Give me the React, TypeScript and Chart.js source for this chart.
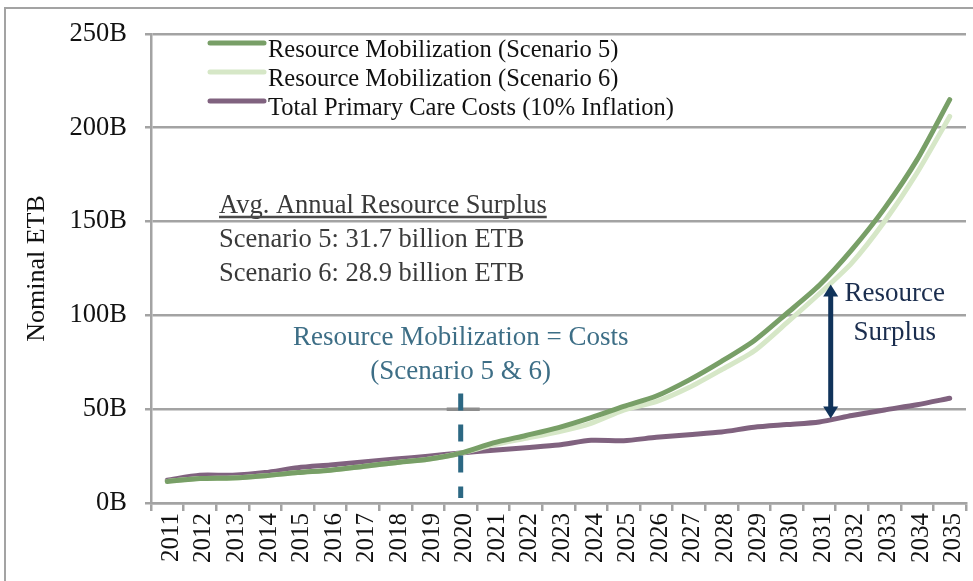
import React, { useEffect, useRef } from "react";
import { Chart, registerables } from "chart.js";

Chart.register(...registerables);

const years = [
  "2011", "2012", "2013", "2014", "2015", "2016", "2017", "2018", "2019", "2020",
  "2021", "2022", "2023", "2024", "2025", "2026", "2027", "2028", "2029", "2030",
  "2031", "2032", "2033", "2034", "2035",
];

// billions of ETB
const scenario5 = [
  11.5, 13, 13.3, 14.5, 16.2, 17.5, 19.5, 21.5, 23.3, 26.5,
  32, 36, 40.2, 45.5, 51.5, 57, 65.5, 75.5, 86.5, 101,
  116, 135, 157, 183, 215,
];
const scenario6 = [
  11.5, 13, 13.3, 14.5, 16.2, 17.5, 19.5, 21.5, 23.3, 26.5,
  31, 34.5, 38, 42.5, 49.5, 54, 61.5, 71, 81, 96,
  111.5, 128, 150, 176, 206,
];
const costs = [
  12.2, 14.8, 14.8, 16.2, 18.8, 20.3, 21.9, 23.4, 24.9, 26.7,
  28.1, 29.5, 30.9, 33.4, 33.2, 35, 36.4, 37.8, 40.4, 41.8,
  43.2, 46.6, 49.6, 52.4, 55.8,
];

const seriesLabels = [
  "Resource Mobilization (Scenario 5)",
  "Resource Mobilization (Scenario 6)",
  "Total Primary Care Costs (10% Inflation)",
];
const seriesColors = ["#789f67", "#d6e7c7", "#80627f"];

const yMin = 0;
const yMax = 250;
const yStep = 50;
const yTickSuffix = "B";
const yTitle = "Nominal ETB";

const noteLines = [
  "Avg. Annual Resource Surplus",
  "Scenario 5: 31.7 billion ETB",
  "Scenario 6: 28.9 billion ETB",
];
const breakEvenLines = ["Resource Mobilization = Costs", "(Scenario 5 & 6)"];
const breakEvenYear = "2020";
const surplusLines = ["Resource", "Surplus"];
const surplusYear = "2031";
const surplusTop = 116.5;
const surplusBottom = 45;

const FONT = "'Liberation Serif', 'Times New Roman', serif";
const GRID = "#a3a3a3";

const annotationPlugin = {
  id: "annotations",
  afterDatasetsDraw(chart: any) {
    const { ctx, scales } = chart;
    const xs = scales.x;
    const ys = scales.y;
    ctx.save();

    // break-even dashed marker
    const bx = xs.getPixelForValue(years.indexOf(breakEvenYear));
    const dashTop = ys.getPixelForValue(58.3);
    const dashBottom = ys.getPixelForValue(0) - 5;
    ctx.strokeStyle = "#8d8d8d";
    ctx.lineWidth = 3.5;
    ctx.beginPath();
    ctx.moveTo(bx - 14, ys.getPixelForValue(50));
    ctx.lineTo(bx + 19, ys.getPixelForValue(50));
    ctx.stroke();

    ctx.strokeStyle = "#2c6883";
    ctx.lineWidth = 5;
    ctx.setLineDash([17, 14]);
    ctx.beginPath();
    ctx.moveTo(bx, dashTop);
    ctx.lineTo(bx, dashBottom);
    ctx.stroke();
    ctx.setLineDash([]);

    ctx.fillStyle = "#3d6e86";
    ctx.font = `27px ${FONT}`;
    ctx.textAlign = "center";
    ctx.textBaseline = "alphabetic";
    ctx.fillText(breakEvenLines[0], bx, dashTop - 49);
    ctx.fillText(breakEvenLines[1], bx, dashTop - 15);

    // surplus arrow
    const i = years.indexOf(surplusYear);
    const step = xs.getPixelForValue(i + 1) - xs.getPixelForValue(i);
    const ax = xs.getPixelForValue(i) + 0.35 * step;
    const aTop = ys.getPixelForValue(surplusTop);
    const aBot = ys.getPixelForValue(surplusBottom);
    const navy = "#10335a";
    ctx.strokeStyle = navy;
    ctx.fillStyle = navy;
    ctx.lineWidth = 5;
    ctx.beginPath();
    ctx.moveTo(ax, aTop + 10);
    ctx.lineTo(ax, aBot - 10);
    ctx.stroke();
    ctx.beginPath();
    ctx.moveTo(ax, aTop);
    ctx.lineTo(ax - 7.5, aTop + 12);
    ctx.lineTo(ax + 7.5, aTop + 12);
    ctx.closePath();
    ctx.fill();
    ctx.beginPath();
    ctx.moveTo(ax, aBot);
    ctx.lineTo(ax - 7.5, aBot - 12);
    ctx.lineTo(ax + 7.5, aBot - 12);
    ctx.closePath();
    ctx.fill();

    ctx.fillStyle = "#1a2d4e";
    ctx.font = `27px ${FONT}`;
    ctx.textAlign = "center";
    ctx.fillText(surplusLines[0], ax + 64, aTop + 17);
    ctx.fillText(surplusLines[1], ax + 64, aTop + 56);

    ctx.restore();
  },
  afterDraw(chart: any) {
    const { ctx, chartArea, width, height } = chart;
    ctx.save();

    // outer frame
    ctx.strokeStyle = GRID;
    ctx.lineWidth = 2;
    ctx.beginPath();
    ctx.moveTo(5, height + 2);
    ctx.lineTo(5, 8);
    ctx.lineTo(width + 2, 8);
    ctx.stroke();

    // legend
    const lx = chartArea.left + 59;
    ctx.font = `24.5px ${FONT}`;
    ctx.textAlign = "left";
    ctx.textBaseline = "alphabetic";
    chart.data.datasets.forEach((ds: any, k: number) => {
      const ly = 43 + 29 * k;
      ctx.strokeStyle = ds.borderColor;
      ctx.lineWidth = 5;
      ctx.lineCap = "round";
      ctx.beginPath();
      ctx.moveTo(lx, ly);
      ctx.lineTo(lx + 54, ly);
      ctx.stroke();
      ctx.fillStyle = "#111";
      ctx.fillText(ds.label, lx + 58, ly + 14);
    });

    // notes
    const nx = chartArea.left + 68;
    ctx.fillStyle = "#3a3a3a";
    ctx.font = `26.5px ${FONT}`;
    noteLines.forEach((t, k) => {
      ctx.fillText(t, nx, 213 + 34 * k);
    });
    const w = ctx.measureText(noteLines[0]).width;
    ctx.strokeStyle = "#4a4a4a";
    ctx.lineWidth = 2.5;
    ctx.lineCap = "butt";
    ctx.beginPath();
    ctx.moveTo(nx, 217);
    ctx.lineTo(nx + w, 217);
    ctx.stroke();

    ctx.restore();
  },
};

export default function App() {
  const ref = useRef<HTMLCanvasElement | null>(null);

  useEffect(() => {
    const canvas = ref.current;
    if (!canvas) return;
    const common = {
      pointRadius: 0,
      borderWidth: 5,
      tension: 0.25,
      borderCapStyle: "round" as const,
      borderJoinStyle: "round" as const,
      fill: false,
    };
    const chart = new Chart(canvas, {
      type: "line",
      data: {
        labels: years,
        datasets: [
          { ...common, label: seriesLabels[0], data: scenario5, borderColor: seriesColors[0], backgroundColor: seriesColors[0] },
          { ...common, label: seriesLabels[1], data: scenario6, borderColor: seriesColors[1], backgroundColor: seriesColors[1] },
          { ...common, label: seriesLabels[2], data: costs, borderColor: seriesColors[2], backgroundColor: seriesColors[2] },
        ],
      },
      options: {
        responsive: false,
        maintainAspectRatio: false,
        animation: false,
        devicePixelRatio: 1,
        layout: { padding: { top: 31, right: 7, bottom: 0, left: 0 } },
        plugins: {
          legend: { display: false },
          tooltip: { enabled: false },
        },
        scales: {
          x: {
            type: "category",
            offset: true,
            afterFit: (s: any) => {
              s.height = 78;
              s.paddingLeft = 0;
              s.paddingRight = 0;
            },
            grid: {
              offset: true,
              drawOnChartArea: false,
              drawTicks: true,
              tickLength: 8,
              color: GRID,
              lineWidth: 2.5,
            },
            border: { display: true, color: GRID, width: 2.5 },
            ticks: {
              autoSkip: false,
              maxRotation: 90,
              minRotation: 90,
              padding: 2,
              labelOffset: 4,
              color: "#111",
              font: { family: FONT, size: 25 },
            },
          },
          y: {
            min: yMin,
            max: yMax,
            afterFit: (s: any) => {
              s.width = 151;
            },
            ticks: {
              stepSize: yStep,
              padding: 18,
              color: "#111",
              font: { family: FONT, size: 26.5 },
              callback: (v: any) => `${v}${yTickSuffix}`,
            },
            grid: {
              color: GRID,
              lineWidth: 2.5,
              drawTicks: true,
              tickLength: 6,
            },
            border: { display: true, color: GRID, width: 2.5 },
            title: {
              display: true,
              text: yTitle,
              color: "#111",
              font: { family: FONT, size: 26 },
              padding: { top: 22, bottom: 0 },
            },
          },
        },
      },
      plugins: [annotationPlugin],
    });
    return () => chart.destroy();
  }, []);

  return (
    <div style={{ position: "absolute", left: 0, top: 0, width: 973, height: 581, background: "#fff" }}>
      <canvas ref={ref} width={973} height={581} style={{ display: "block", width: 973, height: 581 }} />
    </div>
  );
}
